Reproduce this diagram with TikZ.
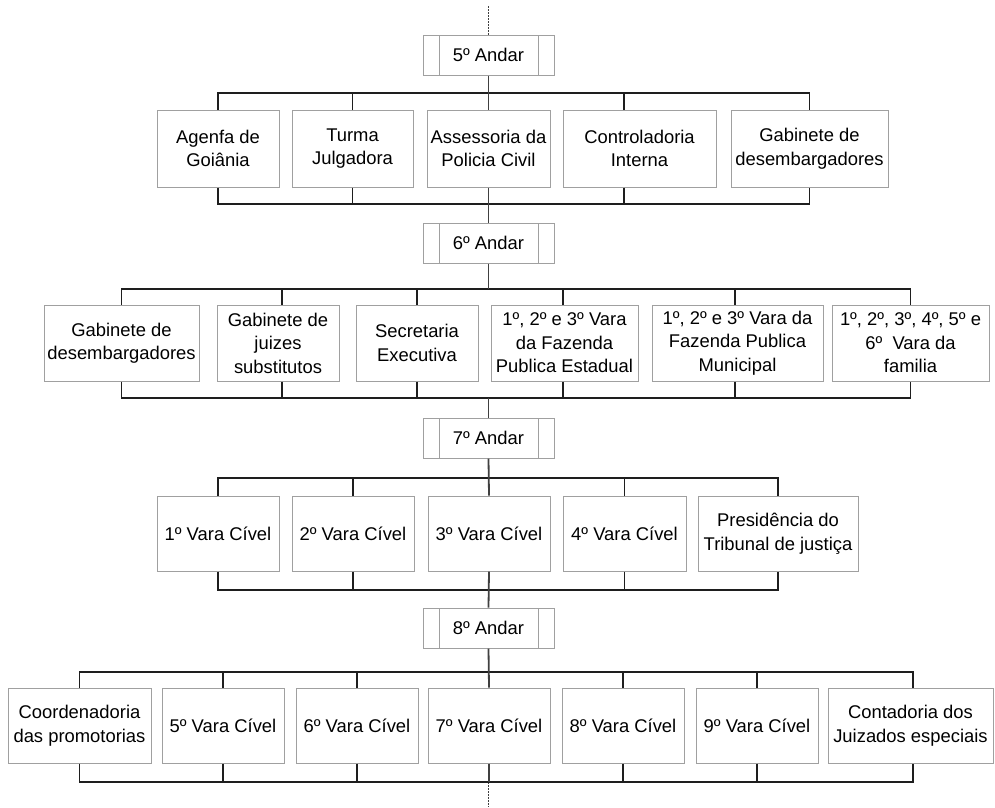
\documentclass[tikz,border=0pt]{standalone}
\usepackage{fontspec}
\setmainfont{Liberation Sans}
\definecolor{boxgray}{HTML}{A0A0A0}
\definecolor{linedark}{HTML}{1E1E1E}
\definecolor{spinegray}{HTML}{404040}
\begin{document}
\begin{tikzpicture}[x=1pt,y=-1pt,
  unit/.style={draw=boxgray, line width=1pt, fill=white, inner sep=1pt,
    align=center, font=\fontsize{18.4}{23.5}\selectfont},
  floor/.style={draw=boxgray, line width=1pt, fill=white, inner sep=0pt,
    minimum width=131pt, minimum height=40pt,
    font=\fontsize{18.4}{23.5}\selectfont,
    path picture={
      \draw[boxgray, line width=1pt]
        ([xshift=16pt]path picture bounding box.north west) --
        ([xshift=16pt]path picture bounding box.south west);
      \draw[boxgray, line width=1pt]
        ([xshift=-16pt]path picture bounding box.north east) --
        ([xshift=-16pt]path picture bounding box.south east);}},
  bus/.style={draw=linedark, line width=1.4pt},
  spine/.style={draw=spinegray, line width=1.8pt},
  dotline/.style={draw=spinegray, line width=1.3pt, dash pattern=on 1.5pt off 1.5pt}]

\useasboundingbox (0,0) rectangle (995,807);

% ---------- floors ----------
\node[floor] (f5) at (488.5,55)  {5º Andar};
\node[floor] (f6) at (488.5,243) {6º Andar};
\node[floor] (f7) at (488.5,438) {7º Andar};
\node[floor] (f8) at (488.5,628) {8º Andar};

% ---------- 5th floor units ----------
\begin{scope}[every node/.append style={minimum height=77pt}]
\node[unit, minimum width=122pt] (a1) at (218,148.5)   {Agenfa de\\Goiânia};
\node[unit, minimum width=121pt] (a2) at (352.5,148.5) {Turma\\Julgadora};
\node[unit, minimum width=123pt] (a3) at (488.5,148.5) {Assessoria da\\Policia Civil};
\node[unit, minimum width=153pt] (a4) at (639.5,148.5) {Controladoria\\Interna};
\node[unit, minimum width=157pt] (a5) at (809.5,148.5) {Gabinete de\\desembargadores};
\end{scope}

% ---------- 6th floor units ----------
\begin{scope}[every node/.append style={minimum height=76pt}]
\node[unit, minimum width=155pt] (b1) at (121.5,343) {Gabinete de\\desembargadores};
\node[unit, minimum width=122pt] (b2) at (278,343)   {Gabinete de\\juizes\\substitutos};
\node[unit, minimum width=122pt] (b3) at (417,343)   {Secretaria\\Executiva};
\node[unit, minimum width=147pt] (b4) at (564.5,343) {1º, 2º e 3º Vara\\da Fazenda\\Publica Estadual};
\node[unit, minimum width=171pt] (b5) at (737.5,343) {1º, 2º e 3º Vara da\\Fazenda Publica\\Municipal};
\node[unit, minimum width=157pt] (b6) at (910.5,343) {1º, 2º, 3º, 4º, 5º e\\6º~ Vara da\\familia};
\end{scope}

% ---------- 7th floor units ----------
\begin{scope}[every node/.append style={minimum height=75pt}]
\node[unit, minimum width=122pt] (c1) at (218,533.5)   {1º Vara Cível};
\node[unit, minimum width=122pt] (c2) at (353,533.5)   {2º Vara Cível};
\node[unit, minimum width=122pt] (c3) at (489,533.5)   {3º Vara Cível};
\node[unit, minimum width=123pt] (c4) at (624.5,533.5) {4º Vara Cível};
\node[unit, minimum width=160pt] (c5) at (778,533.5)   {Presidência do\\Tribunal de justiça};
\end{scope}

% ---------- 8th floor units ----------
\begin{scope}[every node/.append style={minimum height=75pt}]
\node[unit, minimum width=143pt] (d1) at (79.5,725.5)  {Coordenadoria\\das promotorias};
\node[unit, minimum width=122pt] (d2) at (223,725.5)   {5º Vara Cível};
\node[unit, minimum width=122pt] (d3) at (357,725.5)   {6º Vara Cível};
\node[unit, minimum width=122pt] (d4) at (489,725.5)   {7º Vara Cível};
\node[unit, minimum width=122pt] (d5) at (623,725.5)   {8º Vara Cível};
\node[unit, minimum width=122pt] (d6) at (757,725.5)   {9º Vara Cível};
\node[unit, minimum width=165pt] (d7) at (910.5,725.5) {Contadoria dos\\Juizados especiais};
\end{scope}

% ---------- bus levels ----------
\coordinate (u1) at (0,93);  \coordinate (l1) at (0,204);
\coordinate (u2) at (0,289); \coordinate (l2) at (0,398);
\coordinate (u3) at (0,478); \coordinate (l3) at (0,590);
\coordinate (u4) at (0,672); \coordinate (l4) at (0,782);
\coordinate (topend) at (488.5,6);
\coordinate (botend) at (488.5,807);

% ---------- dotted continuation ----------
\draw[dotline] (topend) -- (f5.north);
\draw[dotline] (f8.south |- l4) -- (botend);

% ---------- row 1 connectors ----------
\draw[bus] (a1.north) |- (a5.north |- u1) -- (a5.north);
\draw[bus] (a2.north) -- (a2.north |- u1);
\draw[bus] ([xshift=-15.5pt]a4.north) -- ([xshift=-15.5pt]a4.north |- u1);
\draw[bus] (a1.south) |- (a5.south |- l1) -- (a5.south);
\draw[bus] (a2.south) -- (a2.south |- l1);
\draw[bus] ([xshift=-15.5pt]a4.south) -- ([xshift=-15.5pt]a4.south |- l1);
\draw[spine] (f5.south) -- (a3.north);
\draw[spine] (a3.south) -- (f6.north);

% ---------- row 2 connectors ----------
\draw[bus] (b1.north) |- (b6.north |- u2) -- (b6.north);
\draw[bus] ([xshift=4pt]b2.north) -- ([xshift=4pt]b2.north |- u2);
\draw[bus] (b3.north) -- (b3.north |- u2);
\draw[bus] ([xshift=-1.5pt]b4.north) -- ([xshift=-1.5pt]b4.north |- u2);
\draw[bus] ([xshift=-2.5pt]b5.north) -- ([xshift=-2.5pt]b5.north |- u2);
\draw[bus] (b1.south) |- (b6.south |- l2) -- (b6.south);
\draw[bus] ([xshift=4pt]b2.south) -- ([xshift=4pt]b2.south |- l2);
\draw[bus] (b3.south) -- (b3.south |- l2);
\draw[bus] ([xshift=-1.5pt]b4.south) -- ([xshift=-1.5pt]b4.south |- l2);
\draw[bus] ([xshift=-2.5pt]b5.south) -- ([xshift=-2.5pt]b5.south |- l2);
\draw[spine] (f6.south) -- (f6.south |- u2);
\draw[spine] (f7.north |- l2) -- (f7.north);

% ---------- row 3 connectors ----------
\draw[bus] (c1.north) |- (c5.north |- u3) -- (c5.north);
\draw[bus] (c2.north) -- (c2.north |- u3);
\draw[bus] (c4.north) -- (c4.north |- u3);
\draw[bus] (c1.south) |- (c5.south |- l3) -- (c5.south);
\draw[bus] (c2.south) -- (c2.south |- l3);
\draw[bus] (c4.south) -- (c4.south |- l3);
\draw[spine] (f7.south) -- (c3.north);
\draw[spine] (c3.south) -- (f8.north);

% ---------- row 4 connectors ----------
\draw[bus] (d1.north) |- ([xshift=2.5pt]d7.north |- u4) -- ([xshift=2.5pt]d7.north);
\foreach \n in {d2,d3,d5,d6}{
  \draw[bus] (\n.north) -- (\n.north |- u4);
  \draw[bus] (\n.south) -- (\n.south |- l4);
}
\draw[bus] (d1.south) |- ([xshift=2.5pt]d7.south |- l4) -- ([xshift=2.5pt]d7.south);
\draw[spine] (f8.south) -- (d4.north);
\draw[spine] (d4.south) -- (d4.south |- l4);

\end{tikzpicture}
\end{document}
